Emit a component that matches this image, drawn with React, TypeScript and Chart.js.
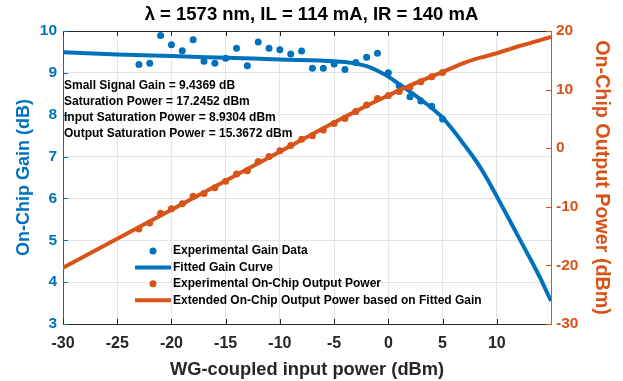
import React, { useEffect, useRef } from 'react';
import { Chart, registerables } from 'chart.js';

Chart.register(...registerables);

const titleText = 'λ = 1573 nm, IL = 114 mA, IR = 140 mA';
const xTitle = 'WG-coupled input power (dBm)';
const yLeftTitle = 'On-Chip Gain (dB)';
const yRightTitle = 'On-Chip Output Power (dBm)';

const xTicks = [-30, -25, -20, -15, -10, -5, 0, 5, 10];
const gainTicks = [3, 4, 5, 6, 7, 8, 9, 10];
const powerTicks = [-30, -20, -10, 0, 10, 20];

// Experimental data (input power in dBm)
const expInput = [-23, -22, -21, -20, -19, -18, -17, -16, -15, -14, -13, -12, -11, -10, -9, -8, -7, -6, -5, -4, -3, -2, -1, 0, 1, 2, 3, 4, 5];
const expGain = [9.2, 9.23, 9.89, 9.67, 9.53, 9.79, 9.28, 9.23, 9.35, 9.59, 9.17, 9.74, 9.59, 9.55, 9.45, 9.52, 9.11, 9.11, 9.21, 9.08, 9.25, 9.37, 9.47, 9.0, 8.69, 8.43, 8.33, 8.2, 7.9];
const expOutput = [-13.8, -12.77, -11.11, -10.33, -9.47, -8.21, -7.72, -6.77, -5.65, -4.41, -3.83, -2.26, -1.41, -0.45, 0.45, 1.52, 2.11, 3.11, 4.21, 5.08, 6.25, 7.37, 8.47, 9.0, 9.69, 10.43, 11.33, 12.2, 12.9];

// Fitted curves
const fitInput = [-30, -25, -20, -15, -10, -5, -4, -3, -2, -1, 0, 1, 2, 3, 4, 5, 6, 7, 8, 9, 10, 11, 12, 13, 14, 15];
const fitGain = [9.49, 9.44, 9.4, 9.36, 9.32, 9.28, 9.26, 9.22, 9.16, 9.05, 8.91, 8.73, 8.55, 8.36, 8.16, 7.93, 7.62, 7.28, 6.93, 6.52, 6.05, 5.57, 5.08, 4.6, 4.1, 3.55];
const fitOutput = [-20.4, -15.45, -10.5, -5.55, -0.6, 4.4, 5.35, 6.3, 7.25, 8.15, 9.0, 9.9, 10.7, 11.5, 12.25, 13.0, 13.8, 14.55, 15.2, 15.7, 16.2, 16.8, 17.4, 17.9, 18.45, 19.0];

const annotationLines = [
  'Small Signal Gain = 9.4369 dB',
  'Saturation Power = 17.2452 dBm',
  'Input Saturation Power = 8.9304 dBm',
  'Output Saturation Power = 15.3672 dBm',
];

const legendLabels = [
  'Experimental Gain Data',
  'Fitted Gain Curve',
  'Experimental On-Chip Output Power',
  'Extended On-Chip Output Power based on Fitted Gain',
];

const BLUE = '#0072BD';
const ORANGE = '#D95319';
const DARK = '#262626';
const GRID = '#e1e5ea';
const FONT = '"Liberation Sans", Arial, Helvetica, sans-serif';

const pairs = (xs: number[], ys: number[]) => xs.map((x, i) => ({ x, y: ys[i] }));

const extrasPlugin = {
  id: 'extras',
  afterDraw(chart: any) {
    const { ctx, chartArea } = chart;
    const { left, right, top, bottom } = chartArea;
    const xs = chart.scales.x;
    const yl = chart.scales.y;
    const yr = chart.scales.y1;
    const L = 5;
    ctx.save();
    ctx.lineWidth = 1;
    // top border
    ctx.strokeStyle = DARK;
    ctx.beginPath();
    ctx.moveTo(left, Math.round(top) + 0.5);
    ctx.lineTo(right, Math.round(top) + 0.5);
    ctx.stroke();
    // x ticks (bottom + top), inside
    xTicks.forEach((v) => {
      const px = Math.round(xs.getPixelForValue(v)) + 0.5;
      ctx.beginPath();
      ctx.moveTo(px, bottom);
      ctx.lineTo(px, bottom - L);
      ctx.moveTo(px, top);
      ctx.lineTo(px, top + L);
      ctx.stroke();
    });
    // left ticks
    ctx.strokeStyle = BLUE;
    gainTicks.forEach((v) => {
      const py = Math.round(yl.getPixelForValue(v)) + 0.5;
      ctx.beginPath();
      ctx.moveTo(left, py);
      ctx.lineTo(left + L, py);
      ctx.stroke();
    });
    // right ticks
    ctx.strokeStyle = ORANGE;
    powerTicks.forEach((v) => {
      const py = Math.round(yr.getPixelForValue(v)) + 0.5;
      ctx.beginPath();
      ctx.moveTo(right, py);
      ctx.lineTo(right - L, py);
      ctx.stroke();
    });

    // annotation text
    ctx.fillStyle = '#000';
    ctx.font = `bold 12px ${FONT}`;
    ctx.textAlign = 'left';
    ctx.textBaseline = 'middle';
    annotationLines.forEach((t, i) => {
      ctx.fillText(t, left + 1, top + 55 + i * 16);
    });

    // legend
    const lx = left + 72;
    const ly = top + 220;
    const rowH = 16.4;
    ctx.font = `bold 12px ${FONT}`;
    const styles = [
      { color: BLUE, line: false },
      { color: BLUE, line: true },
      { color: ORANGE, line: false },
      { color: ORANGE, line: true },
    ];
    legendLabels.forEach((t, i) => {
      const yy = ly + i * rowH;
      const s = styles[i];
      if (s.line) {
        ctx.strokeStyle = s.color;
        ctx.lineWidth = 4;
        ctx.beginPath();
        ctx.moveTo(lx, yy);
        ctx.lineTo(lx + 36, yy);
        ctx.stroke();
      } else {
        ctx.fillStyle = s.color;
        ctx.beginPath();
        ctx.arc(lx + 18, yy, 3.5, 0, Math.PI * 2);
        ctx.fill();
      }
      ctx.fillStyle = '#000';
      ctx.fillText(t, lx + 38, yy);
    });
    ctx.restore();
  },
};

export default function App() {
  const ref = useRef<HTMLCanvasElement | null>(null);
  useEffect(() => {
    document.body.style.margin = '0';
    Chart.defaults.font.family = FONT;
    const canvas = ref.current;
    if (!canvas) return;
    const chart = new Chart(canvas, {
      type: 'scatter',
      data: {
        datasets: [
          {
            label: legendLabels[3],
            data: pairs(fitInput, fitOutput),
            yAxisID: 'y1',
            showLine: true,
            borderColor: ORANGE,
            borderWidth: 4,
            pointRadius: 0,
            cubicInterpolationMode: 'monotone',
            order: 0,
          },
          {
            label: legendLabels[2],
            data: pairs(expInput, expOutput),
            yAxisID: 'y1',
            showLine: false,
            backgroundColor: ORANGE,
            borderWidth: 0,
            pointRadius: 3.5,
            order: 1,
          },
          {
            label: legendLabels[1],
            data: pairs(fitInput, fitGain),
            yAxisID: 'y',
            showLine: true,
            borderColor: BLUE,
            borderWidth: 4,
            pointRadius: 0,
            cubicInterpolationMode: 'monotone',
            order: 2,
          },
          {
            label: legendLabels[0],
            data: pairs(expInput, expGain),
            yAxisID: 'y',
            showLine: false,
            backgroundColor: BLUE,
            borderWidth: 0,
            pointRadius: 3.5,
            order: 3,
          },
        ],
      },
      options: {
        responsive: false,
        animation: false,
        layout: { padding: 0 },
        plugins: {
          legend: { display: false },
          tooltip: { enabled: false },
          title: {
            display: true,
            text: titleText,
            color: '#000',
            font: { size: 18.5, weight: 'bold', family: FONT },
            padding: { top: 4, bottom: 4.8 },
          },
        },
        scales: {
          x: {
            type: 'linear',
            min: -30,
            max: 15,
            afterBuildTicks: (s: any) => {
              s.ticks = xTicks.map((v) => ({ value: v }));
            },
            afterFit: (s: any) => {
              s.height = 57;
            },
            ticks: {
              color: DARK,
              font: { size: 16, weight: 'bold', family: FONT },
              padding: 10,
              maxRotation: 0,
              autoSkip: false,
            },
            grid: { color: GRID, drawTicks: false },
            border: { color: DARK, width: 1 },
            title: {
              display: true,
              text: xTitle,
              color: DARK,
              font: { size: 18.3, weight: 'bold', family: FONT },
              padding: { top: 0, bottom: 0 },
            },
          },
          y: {
            type: 'linear',
            position: 'left',
            min: 3,
            max: 10,
            afterBuildTicks: (s: any) => {
              s.ticks = gainTicks.map((v) => ({ value: v }));
            },
            afterFit: (s: any) => {
              s.width = 63;
            },
            ticks: {
              color: BLUE,
              font: { size: 15.5, weight: 'bold', family: FONT },
              padding: 6,
            },
            grid: { color: GRID, drawTicks: false },
            border: { color: BLUE, width: 1 },
            title: {
              display: true,
              text: yLeftTitle,
              color: BLUE,
              font: { size: 18, weight: 'bold', family: FONT },
              padding: { top: 13, bottom: 0 },
            },
          },
          y1: {
            type: 'linear',
            position: 'right',
            min: -30,
            max: 20,
            afterBuildTicks: (s: any) => {
              s.ticks = powerTicks.map((v) => ({ value: v }));
            },
            afterFit: (s: any) => {
              s.width = 72;
            },
            ticks: {
              color: ORANGE,
              font: { size: 15.5, weight: 'bold', family: FONT },
              padding: 5,
            },
            grid: { display: false, drawTicks: false },
            border: { display: true, color: ORANGE, width: 1 },
            title: {
              display: true,
              text: yRightTitle,
              color: ORANGE,
              font: { size: 19.7, weight: 'bold', family: FONT },
              padding: { top: 10, bottom: 0 },
            },
          },
        },
      },
      plugins: [extrasPlugin],
    } as any);
    return () => chart.destroy();
  }, []);
  return <canvas ref={ref} width={623} height={381} style={{ display: 'block' }} />;
}
